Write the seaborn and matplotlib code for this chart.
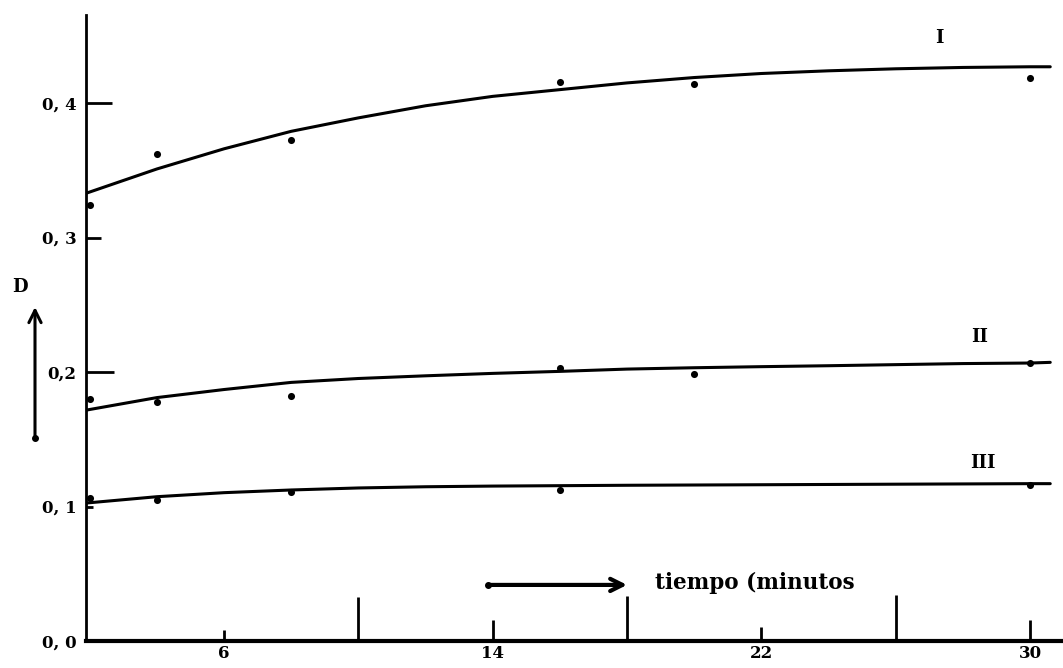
import numpy as np
import pandas as pd
import matplotlib
matplotlib.use("Agg")
import matplotlib.pyplot as plt
import seaborn as sns

# ---------------- data ----------------
curve_x = [1.9, 4, 6, 8, 10, 12, 14, 16, 18, 20, 22, 24, 26, 28, 30, 30.6]
curve_I = [0.333, 0.351, 0.366, 0.379, 0.389, 0.398, 0.405, 0.410, 0.415, 0.419,
           0.422, 0.424, 0.4255, 0.4265, 0.427, 0.427]
curve_II = [0.1717, 0.181, 0.187, 0.1923, 0.1952, 0.1972, 0.199, 0.2005, 0.2022,
            0.2032, 0.204, 0.2047, 0.2055, 0.2063, 0.2067, 0.2072]
curve_III = [0.1026, 0.1073, 0.1103, 0.1123, 0.1138, 0.1147, 0.1152, 0.1155,
             0.1158, 0.116, 0.1162, 0.1164, 0.1166, 0.1168, 0.117, 0.117]

pts_x_I = [2, 4, 8, 16, 20, 30]
pts_I = [0.324, 0.362, 0.3725, 0.416, 0.4145, 0.419]
pts_x_II = [2, 4, 8, 16, 20, 30]
pts_II = [0.180, 0.1777, 0.182, 0.203, 0.1985, 0.2067]
pts_x_III = [2, 4, 8, 16, 30]
pts_III = [0.106, 0.105, 0.111, 0.112, 0.116]

curve_names = ["I", "II", "III"]
xtick_pos = [6, 10, 14, 18, 22, 26, 30]
xtick_labels = ["6", "", "14", "", "22", "", "30"]
ytick_pos = [0.0, 0.1, 0.2, 0.3, 0.4]
ytick_labels = ["0, 0", "0, 1", "0,2", "0, 3", "0, 4"]
x_label_text = "tiempo (minutos"
y_label_text = "D"

# ---------------- build tables ----------------
lines_df = pd.concat([
    pd.DataFrame({"t": curve_x, "D": vals, "curve": name})
    for name, vals in zip(curve_names, [curve_I, curve_II, curve_III])
], ignore_index=True)
pts_df = pd.concat([
    pd.DataFrame({"t": xs, "D": ys, "curve": name})
    for name, xs, ys in zip(curve_names, [pts_x_I, pts_x_II, pts_x_III],
                            [pts_I, pts_II, pts_III])
], ignore_index=True)

# ---------------- style ----------------
sns.set_style("white")
plt.rcParams["font.family"] = ["DejaVu Serif", "DejaVu Sans"]
plt.rcParams["font.weight"] = "bold"
plt.rcParams["text.color"] = "black"
plt.rcParams["xtick.color"] = "black"
plt.rcParams["ytick.color"] = "black"

fig = plt.figure(figsize=(10.63, 6.68), dpi=100)
W, H = 1063, 668
ax = fig.add_axes([86 / W, 27 / H, 977 / W, 626 / H])

sns.lineplot(data=lines_df, x="t", y="D", units="curve", estimator=None,
             color="black", linewidth=2.2, ax=ax, sort=False)
sns.scatterplot(data=pts_df, x="t", y="D", color="black", s=26,
                edgecolor="black", linewidth=0, ax=ax, zorder=5)

ax.set_xlim(1.89, 30.98)
ax.set_ylim(0, 0.4655)
ax.set_xlabel("")
ax.set_ylabel("")

for s in ["top", "right"]:
    ax.spines[s].set_visible(False)
ax.spines["bottom"].set_linewidth(3.0)
ax.spines["left"].set_linewidth(2.0)
ax.spines["bottom"].set_color("black")
ax.spines["left"].set_color("black")

ax.set_xticks(xtick_pos)
ax.set_xticklabels(xtick_labels)
ax.set_yticks(ytick_pos)
ax.set_yticklabels(ytick_labels)
ax.tick_params(axis="x", bottom=True, direction="in", width=2, pad=3,
               labelsize=12, colors="black")
ax.tick_params(axis="y", left=True, direction="in", width=2, pad=7,
               labelsize=12, colors="black")

# per-tick lengths (pixels -> points)
x_len_px = [11, 44, 21, 45, 14, 46, 21]
for t, L in zip(ax.xaxis.get_major_ticks(), x_len_px):
    t.tick1line.set_markersize(L * 0.72)
y_len_px = [0, 7, 28, 15, 26]
for t, L in zip(ax.yaxis.get_major_ticks(), y_len_px):
    t.tick1line.set_markersize(L * 0.72)

# curve labels
ax.text(27.3, 0.4487, "I", fontsize=13, ha="center", va="center",
        color="black")
ax.text(28.5, 0.2262, "II", fontsize=13, ha="center", va="center",
        color="black")
ax.text(28.6, 0.1324, "III", fontsize=13, ha="center", va="center",
        color="black")

# time arrow and label
ax.annotate("", xy=(18.0, 0.0417), xytext=(13.86, 0.0417),
            arrowprops=dict(arrowstyle="->", lw=3, color="black",
                            mutation_scale=22, shrinkA=0, shrinkB=0))
ax.plot([13.86], [0.0417], marker="o", markersize=4, color="black")
ax.text(18.83, 0.043, x_label_text, fontsize=15.5, ha="left", va="center",
        fontweight="bold", color="black")

# D label with upward arrow (outside the axes)
fig.text(20 / W, 1 - 287 / H, y_label_text, fontsize=13, ha="center",
         va="center", color="black")
ax.annotate("", xy=(35, H - 307), xytext=(35, H - 438),
            xycoords="figure pixels", textcoords="figure pixels",
            arrowprops=dict(arrowstyle="->", lw=2.2, color="black",
                            mutation_scale=22, shrinkA=0, shrinkB=0),
            annotation_clip=False)
fig.add_artist(plt.Line2D([35 / W], [1 - 438 / H], marker="o", markersize=4,
                          color="black", transform=fig.transFigure))

fig.savefig("out.png", dpi=100, facecolor="white")
